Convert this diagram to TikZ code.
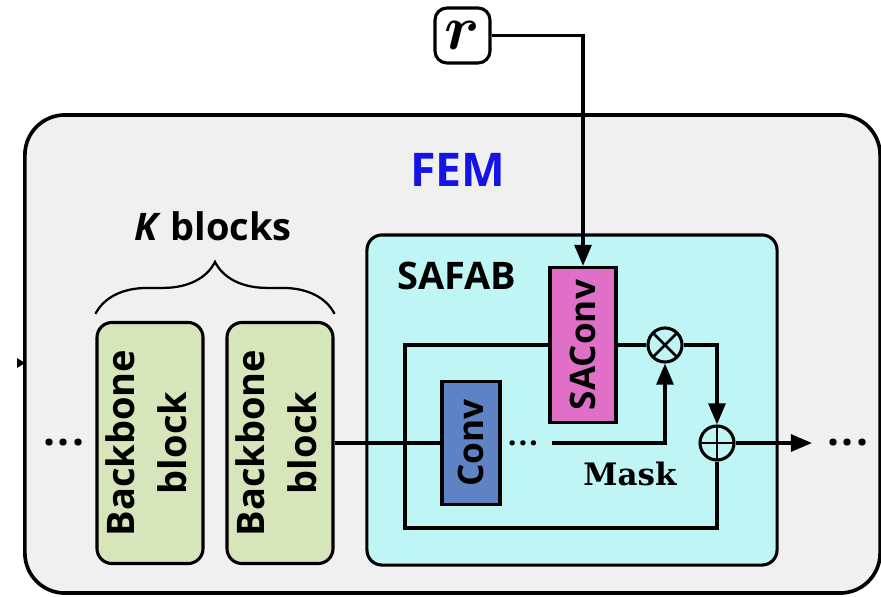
\documentclass[tikz,border=0pt]{standalone}
\usepackage{amsmath, amssymb, bm}
\usepackage{fontspec}
\setmainfont{Open Sans}
\newfontfamily\maskfont{DejaVu Serif}
\usetikzlibrary{arrows.meta, positioning, calc, decorations.pathreplacing}
\definecolor{PanelGray}{rgb}{0.94, 0.94, 0.94}
\definecolor{SafabCyan}{rgb}{0.75, 0.96, 0.96}
\definecolor{BackboneGreen}{rgb}{0.84, 0.90, 0.73}
\definecolor{SAConvPink}{rgb}{0.88, 0.44, 0.78}
\definecolor{ConvBlue}{rgb}{0.37, 0.51, 0.77}
\definecolor{FEMBlue}{rgb}{0.08, 0.08, 0.90}

\begin{document}
\begin{tikzpicture}[x=0.025cm, y=-0.025cm, >={Triangle[length=15pt, width=12pt]}, line width=2.2pt,
    wire/.style={line width=2.4pt},
    backbone/.style={draw, fill=BackboneGreen, rounded corners=0.375cm, inner sep=0pt,
        minimum width=2.65cm, minimum height=6.025cm},
    convbox/.style={draw, inner sep=0pt},
    opcircle/.style={draw, circle, inner sep=0pt, minimum size=0.85cm},
    dotrow/.style={font=\fontsize{30}{30}\selectfont\bfseries, inner sep=0pt}]
        \useasboundingbox (0,0) rectangle (881,597);
        % Outer FEM panel
        \node [draw, fill=PanelGray, line width=2.6pt, rounded corners=1cm,
            minimum width=21.375cm, minimum height=11.95cm] (fem) at (452.5,354) {};
        \fill (17,358) -- (25,363) -- (17,368) -- cycle;
        \node [text=FEMBlue, font=\fontsize{33}{40}\selectfont\bfseries] (femtitle) at (458,170) {FEM};
        % SAFAB panel
        \node [draw, fill=SafabCyan, rounded corners=0.375cm,
            minimum width=10.25cm, minimum height=8.25cm] (safab) at (572,400) {};
        \node [font=\fontsize{27}{32}\selectfont\bfseries] (safabtitle) at (457,276) {SAFAB};
        % Backbone blocks
        \node [backbone] (bb1) at (150,443) {\fontsize{27}{37}\selectfont\bfseries
            \rotatebox{90}{\begin{tabular}{@{}c@{}}Backbone\\block\end{tabular}}};
        \node [backbone] (bb2) at (280,443) {\fontsize{27}{37}\selectfont\bfseries
            \rotatebox{90}{\begin{tabular}{@{}c@{}}Backbone\\block\end{tabular}}};
        \draw [line width=1.6pt, decorate, decoration={brace, amplitude=1.3cm}]
            (bb1.north west) ++(0,-7) coordinate (bl) (bl) -- (bb2.north east |- bl);
        \node [font=\fontsize{27}{32}\selectfont\bfseries] (kblocks) at (213,226) {\textit{K} blocks};
        \node [dotrow] (dotsin) at (64,443) {.\hspace{0.06em}.\hspace{0.06em}.};
        % Convolutions and operators
        \node [convbox, fill=ConvBlue, minimum width=1.45cm, minimum height=3.075cm] (conv) at (471,443)
            {\fontsize{25}{30}\selectfont\bfseries\rotatebox{90}{Conv}};
        \node [convbox, fill=SAConvPink, minimum width=1.65cm, minimum height=3.875cm] (saconv) at (583,345)
            {\fontsize{25}{30}\selectfont\bfseries\rotatebox{90}{SAConv}};
        \node [opcircle, path picture={
            \draw [line width=1.8pt] (path picture bounding box.south west) -- (path picture bounding box.north east);
            \draw [line width=1.8pt] (path picture bounding box.north west) -- (path picture bounding box.south east);}]
            (mul) at (665,345) {};
        \node [opcircle, path picture={
            \draw [line width=1.8pt] (path picture bounding box.south) -- (path picture bounding box.north);
            \draw [line width=1.8pt] (path picture bounding box.west) -- (path picture bounding box.east);}]
            (add) at (717,443) {};
        \node [dotrow, font=\fontsize{22}{22}\selectfont\bfseries] (dotsmid) at (523,443) {.\hspace{0.06em}.\hspace{0.06em}.};
        \node [font=\fontsize{22}{26}\selectfont\maskfont\bfseries] (mask) at (630,474) {Mask};
        \node [dotrow] (dotsout) at (848,443) {.\hspace{0.06em}.\hspace{0.06em}.};
        % Input r
        \node [draw, rounded corners=0.3cm, minimum size=1.375cm, inner sep=0pt] (rin) at (462.5,35.5)
            {\scalebox{4.5}{$\bm{r}$}};
        % Connectors
        \coordinate (maskstart) at (552,443);
        \coordinate (loopbot) at (405,528);
        \coordinate (outend) at (812,443);
        \draw [wire, ->] (rin.east) -| (saconv.north);
        \draw [wire] (bb2.east) -- (conv.west);
        \draw [wire, ->] (maskstart) -| (mul.south);
        \draw [wire] (saconv.west) -| (loopbot) -| (add.south);
        \draw [wire] (saconv.east) -- (mul.west);
        \draw [wire, ->] (mul.east) -| (add.north);
        \draw [wire, ->] (add.east) -- (outend);
    \end{tikzpicture}
\end{document}
